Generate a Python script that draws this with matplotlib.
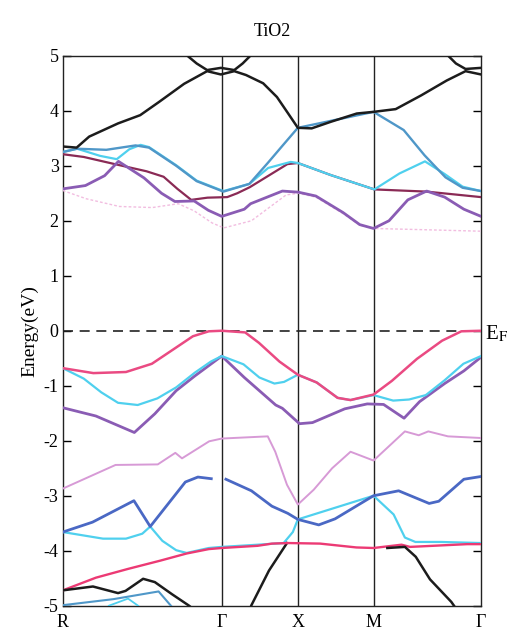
import numpy as np
import matplotlib
matplotlib.use("Agg")
import matplotlib.pyplot as plt

plt.rcParams['font.family'] = ['Liberation Serif', 'DejaVu Serif']
plt.rcParams['mathtext.fontset'] = 'stix'
plt.rcParams['axes.unicode_minus'] = False

# high-symmetry points (fraction of path)
kpt_labels = ["R", "Γ", "X", "M", "Γ"]
kpt_pos = [0.0, 0.38, 0.562, 0.743, 1.0]
yticks = [5, 4, 3, 2, 1, 0, -1, -2, -3, -4, -5]

# ---------------- conduction bands ----------------
black_a_k = [0, 0.033, 0.063, 0.132, 0.185, 0.23, 0.29, 0.345, 0.378, 0.41, 0.438, 0.479, 0.512, 0.538,
             0.562, 0.595, 0.641, 0.703, 0.743, 0.796, 0.857, 0.918, 0.963, 1.0]
black_a_e = [3.35, 3.33, 3.53, 3.77, 3.92, 4.16, 4.49, 4.72, 4.66, 4.72, 4.65, 4.5, 4.25, 3.96,
             3.69, 3.68, 3.80, 3.95, 3.98, 4.03, 4.28, 4.55, 4.72, 4.66]
black_b_k = [0.29, 0.32, 0.345, 0.378, 0.41, 0.43, 0.455]
black_b_e = [5.05, 4.86, 4.74, 4.78, 4.74, 4.86, 5.05]
black_c_k = [0.915, 0.94, 0.963, 1.0]
black_c_e = [5.05, 4.86, 4.76, 4.78]

steel_k = [0, 0.034, 0.104, 0.174, 0.206, 0.271, 0.32, 0.384, 0.446, 0.49, 0.527, 0.562,
           0.743, 0.815, 0.865, 0.915, 0.956, 1.0]
steel_e = [3.25, 3.31, 3.29, 3.37, 3.33, 3.0, 2.72, 2.53, 2.67, 3.05, 3.38, 3.69,
           3.98, 3.65, 3.19, 2.79, 2.6, 2.54]

cyanc_k = [0, 0.034, 0.089, 0.129, 0.159, 0.186, 0.206, 0.271, 0.32, 0.384, 0.446, 0.491, 0.545,
           0.562, 0.641, 0.745, 0.805, 0.866, 0.913, 0.956, 1.0]
cyanc_e = [3.25, 3.31, 3.18, 3.12, 3.30, 3.38, 3.34, 3.01, 2.73, 2.54, 2.67, 2.96, 3.07,
           3.05, 2.83, 2.57, 2.86, 3.08, 2.85, 2.62, 2.54]

maroon_k = [0, 0.05, 0.13, 0.2, 0.241, 0.274, 0.307, 0.346, 0.393, 0.417, 0.447, 0.537, 0.562,
            0.641, 0.745, 0.87, 1.0]
maroon_e = [3.21, 3.16, 3.02, 2.90, 2.80, 2.58, 2.38, 2.42, 2.43, 2.50, 2.61, 3.03, 3.05,
            2.83, 2.57, 2.53, 2.43]

purplec_k = [0, 0.054, 0.1, 0.133, 0.194, 0.236, 0.268, 0.314, 0.348, 0.38, 0.434, 0.449, 0.525,
             0.563, 0.605, 0.67, 0.71, 0.743, 0.78, 0.825, 0.87, 0.913, 0.959, 1.0]
purplec_e = [2.58, 2.64, 2.82, 3.08, 2.78, 2.5, 2.35, 2.36, 2.19, 2.08, 2.21, 2.31, 2.54,
             2.52, 2.45, 2.15, 1.93, 1.86, 2.0, 2.38, 2.54, 2.43, 2.21, 2.08]

faint_k = [0, 0.056, 0.135, 0.214, 0.276, 0.314, 0.357, 0.385, 0.451, 0.534, 0.563, 0.605, 0.67,
           0.71, 0.743, 0.85, 1.0]
faint_e = [2.55, 2.40, 2.26, 2.24, 2.31, 2.18, 1.96, 1.87, 2.0, 2.47, 2.50, 2.43, 2.13,
           1.92, 1.86, 1.84, 1.81]

# ---------------- valence bands ----------------
magenta_k = [0, 0.073, 0.151, 0.213, 0.266, 0.311, 0.349, 0.38, 0.436, 0.469, 0.518, 0.562, 0.607,
             0.657, 0.688, 0.743, 0.787, 0.847, 0.907, 0.953, 1.0]
magenta_e = [-0.68, -0.77, -0.75, -0.60, -0.33, -0.10, -0.01, 0.0, -0.03, -0.22, -0.56, -0.80, -0.94,
             -1.22, -1.26, -1.16, -0.91, -0.51, -0.18, -0.01, 0.0]

cyanv_k = [0, 0.05, 0.092, 0.132, 0.179, 0.226, 0.271, 0.316, 0.354, 0.38, 0.432, 0.47, 0.506, 0.529,
           0.562, 0.607, 0.657, 0.688, 0.743, 0.79, 0.828, 0.868, 0.913, 0.958, 1.0]
cyanv_e = [-0.68, -0.87, -1.12, -1.31, -1.35, -1.23, -1.03, -0.76, -0.56, -0.46, -0.61, -0.85, -0.96, -0.93,
           -0.80, -0.94, -1.22, -1.26, -1.17, -1.27, -1.25, -1.17, -0.9, -0.6, -0.46]

purplev_k = [0, 0.079, 0.171, 0.22, 0.271, 0.316, 0.38, 0.434, 0.509, 0.525, 0.566, 0.597, 0.674,
             0.728, 0.767, 0.816, 0.853, 0.913, 0.959, 1.0]
purplev_e = [-1.4, -1.55, -1.85, -1.51, -1.09, -0.82, -0.46, -0.85, -1.35, -1.41, -1.69, -1.67, -1.42,
             -1.33, -1.34, -1.59, -1.29, -0.96, -0.73, -0.48]

orchid_k = [0, 0.126, 0.227, 0.269, 0.285, 0.35, 0.38, 0.49, 0.508, 0.536, 0.562, 0.6, 0.644,
            0.688, 0.743, 0.818, 0.851, 0.874, 0.921, 1.0]
orchid_e = [-2.87, -2.44, -2.43, -2.22, -2.32, -2.01, -1.96, -1.92, -2.2, -2.8, -3.16, -2.89, -2.5,
            -2.2, -2.36, -1.83, -1.9, -1.83, -1.92, -1.95]

blue_k = [0, 0.071, 0.17, 0.209, 0.293, 0.323, 0.355, np.nan, 0.39, 0.451, 0.5, 0.538, 0.562, 0.612,
          0.651, 0.743, 0.803, 0.876, 0.899, 0.959, 1.0]
blue_e = [-3.66, -3.48, -3.09, -3.56, -2.75, -2.66, -2.69, np.nan, -2.70, -2.91, -3.19, -3.32, -3.43, -3.53,
          -3.42, -3.0, -2.91, -3.14, -3.1, -2.7, -2.65]

cyanl_k = [0, 0.096, 0.151, 0.19, 0.209, 0.238, 0.271, 0.296, 0.349, 0.38, 0.466, 0.528, 0.55, 0.562,
           0.743, 0.791, 0.818, 0.843, 0.904, 1.0]
cyanl_e = [-3.66, -3.78, -3.78, -3.69, -3.56, -3.82, -3.99, -4.04, -3.95, -3.93, -3.89, -3.86, -3.66, -3.43,
           -3.0, -3.34, -3.76, -3.84, -3.84, -3.86]

red_k = [0, 0.079, 0.156, 0.233, 0.296, 0.349, 0.38, 0.466, 0.5, 0.54, 0.615, 0.702, 0.743, 0.81,
         0.83, 0.858, 0.967, 1.0]
red_e = [-4.72, -4.49, -4.33, -4.18, -4.05, -3.97, -3.95, -3.91, -3.87, -3.86, -3.87, -3.94, -3.95, -3.89,
         -3.93, -3.92, -3.88, -3.88]

blackv1_k = [0, 0.072, 0.132, 0.15, 0.192, 0.22, 0.261, 0.302, 0.31]
blackv1_e = [-4.72, -4.65, -4.77, -4.73, -4.51, -4.57, -4.79, -5.0, -5.05]
blackv2_k = [0.451, 0.493, 0.536]
blackv2_e = [-4.99, -4.36, -3.86]
blackv3_k = [0.776, 0.818, 0.844, 0.878, 0.929, 0.94]
blackv3_e = [-3.95, -3.93, -4.11, -4.52, -4.93, -5.05]

steelb_k = [0, 0.121, 0.229, 0.263]
steelb_e = [-4.99, -4.88, -4.74, -5.04]
cyanb_k = [0.11, 0.156, 0.18]
cyanb_e = [-5.0, -4.87, -5.0]

# ---------------- figure ----------------
fig = plt.figure(figsize=(5.15, 6.41), dpi=100)
ax = fig.add_axes([0.122, 0.055, 0.812, 0.858])

C_BLACK = '#1c1c1c'
C_STEEL = '#4f97c8'
C_CYAN = '#4fd0ee'
C_MAROON = '#8a2a55'
C_PURPLE = '#8a5cb4'
C_FAINT = '#f2bde0'
C_MAGENTA = '#ea4a82'
C_ORCHID = '#d79ad6'
C_BLUE = '#4a68c4'
C_RED = '#ec3a74'

for xp in kpt_pos[1:-1]:
    ax.axvline(xp, color='#222222', lw=1.0, zorder=1)

ax.axhline(0, color='#222222', lw=1.2, ls=(0, (6, 4)), zorder=2)

# conduction
ax.plot(faint_k, faint_e, color=C_FAINT, lw=1.0, ls=(0, (2, 1.5)), zorder=3)
ax.plot(maroon_k, maroon_e, color=C_MAROON, lw=1.6, zorder=4)
ax.plot(purplec_k, purplec_e, color=C_PURPLE, lw=2.0, zorder=4)
ax.plot(cyanc_k, cyanc_e, color=C_CYAN, lw=1.6, zorder=5)
ax.plot(steel_k, steel_e, color=C_STEEL, lw=1.7, zorder=5)
ax.plot(black_a_k, black_a_e, color=C_BLACK, lw=1.8, zorder=6)
ax.plot(black_b_k, black_b_e, color=C_BLACK, lw=1.8, zorder=6)
ax.plot(black_c_k, black_c_e, color=C_BLACK, lw=1.8, zorder=6)

# valence
ax.plot(purplev_k, purplev_e, color=C_PURPLE, lw=2.0, zorder=4)
ax.plot(cyanv_k, cyanv_e, color=C_CYAN, lw=1.6, zorder=4)
ax.plot(magenta_k, magenta_e, color=C_MAGENTA, lw=1.8, zorder=5)
ax.plot(orchid_k, orchid_e, color=C_ORCHID, lw=1.4, zorder=4)
ax.plot(cyanl_k, cyanl_e, color=C_CYAN, lw=1.6, zorder=4)
ax.plot(blue_k, blue_e, color=C_BLUE, lw=2.0, zorder=5)
ax.plot(blackv2_k, blackv2_e, color=C_BLACK, lw=1.8, zorder=4)
ax.plot(red_k, red_e, color=C_RED, lw=1.7, zorder=5)
ax.plot(blackv3_k, blackv3_e, color=C_BLACK, lw=1.8, zorder=6)
ax.plot(blackv1_k, blackv1_e, color=C_BLACK, lw=1.8, zorder=6)
ax.plot(steelb_k, steelb_e, color=C_STEEL, lw=1.5, zorder=5)
ax.plot(cyanb_k, cyanb_e, color=C_CYAN, lw=1.3, zorder=5)

ax.set_xlim(0, 1)
ax.set_ylim(-5, 5)
ax.set_yticks(yticks)
ax.set_yticklabels([str(v) for v in yticks], fontsize=13)
ax.tick_params(axis='y', direction='in', length=6, width=1.0, left=True, right=True, pad=3)
ax.set_xticks(kpt_pos)
ax.set_xticklabels(kpt_labels, fontsize=13)
ax.tick_params(axis='x', length=0, pad=6)
for s in ax.spines.values():
    s.set_linewidth(1.0)
    s.set_color('#222222')

ax.set_ylabel("Energy(eV)", fontsize=14, labelpad=4)
ax.set_title("TiO2", fontsize=13, pad=14)
ax.text(1.01, -0.05, r"E$_\mathrm{F}$", transform=ax.get_yaxis_transform(),
        fontsize=15, va='center', ha='left')

fig.savefig("out.png", dpi=100)
